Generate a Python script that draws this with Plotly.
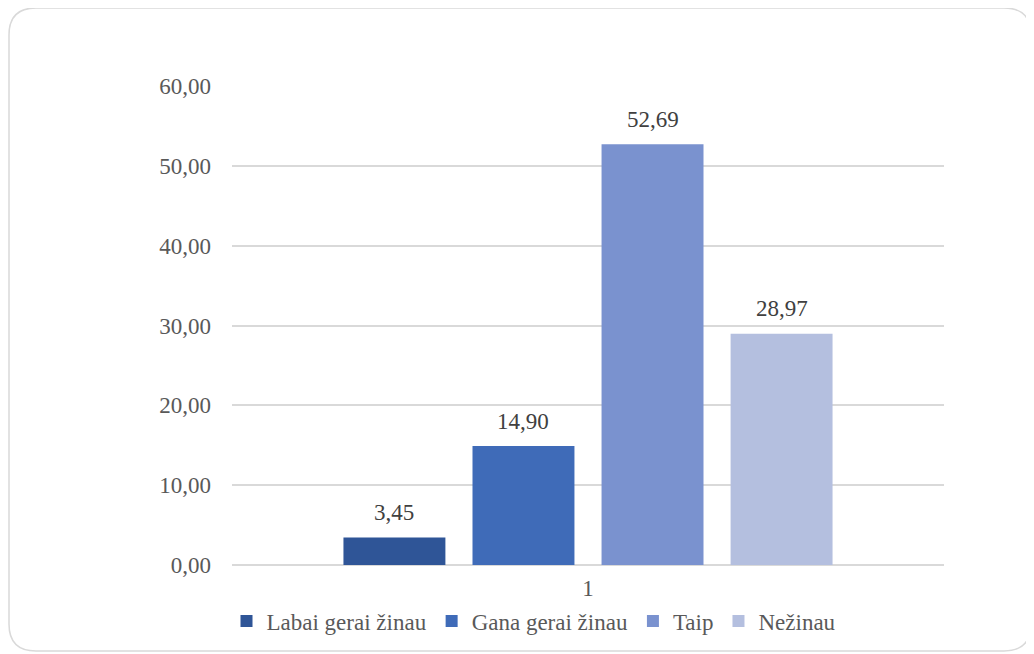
import plotly.graph_objects as go

categories = ["1"]
series_names = ["Labai gerai žinau", "Gana gerai žinau", "Taip", "Nežinau"]
series_values = [3.45, 14.90, 52.69, 28.97]
colors = ["#2F5597", "#3F6BB8", "#7A92CF", "#B4BFDF"]
y_ticks = [0, 10, 20, 30, 40, 50, 60]

OFF = 8  # default body margin of the html page
W, H = 1034 - OFF, 654 - OFF
L, T = 232 - OFF, 86 - OFF
R = W - (944 - OFF)
B = H - (565 - OFF)
PW, PH = W - L - R, H - T - B
BARGAP = 0.275
BARGROUPGAP = 0.21
FONT = "Liberation Serif, Times New Roman, serif"

fig = go.Figure()
for name, val, col in zip(series_names, series_values, colors):
    fig.add_trace(go.Bar(x=categories, y=[val], name=name, marker_color=col,
                         marker_line_width=0))

slot = PW * (1 - BARGAP) / len(series_values)
cat_index = 0  # index of the single category on the category axis
for i, val in enumerate(series_values):
    fig.add_annotation(x=cat_index, y=val, xref="x", yref="y",
                       text=f"{val:.2f}".replace(".", ","), showarrow=False,
                       xshift=(i - (len(series_values) - 1) / 2) * slot,
                       yshift=25, yanchor="middle",
                       font=dict(family=FONT, size=23, color="#404040"))

# rounded border in paper coords (page pixel values)
def px(x):
    return (x - OFF - L) / PW

def py(y):
    return (H - B - (y - OFF)) / PH

x0, x1, y0, y1, r = 9, 1031, 8, 651, 27
rx, ry = r / PW, r / PH
path = (f"M {px(x0)+rx},{py(y0)} L {px(x1)-rx},{py(y0)} Q {px(x1)},{py(y0)} {px(x1)},{py(y0)-ry} "
        f"L {px(x1)},{py(y1)+ry} Q {px(x1)},{py(y1)} {px(x1)-rx},{py(y1)} "
        f"L {px(x0)+rx},{py(y1)} Q {px(x0)},{py(y1)} {px(x0)},{py(y1)+ry} "
        f"L {px(x0)},{py(y0)-ry} Q {px(x0)},{py(y0)} {px(x0)+rx},{py(y0)} Z")
fig.add_shape(type="path", path=path, xref="paper", yref="paper",
              line=dict(color="#D9D9D9", width=1.5), layer="below")

fig.update_layout(
    width=W, height=H,
    margin=dict(l=L, r=R, t=T, b=B, autoexpand=False),
    paper_bgcolor="white", plot_bgcolor="white",
    barmode="group", bargap=BARGAP, bargroupgap=BARGROUPGAP,
    separators=", ",
    font=dict(family=FONT, size=23, color="#595959"),
    showlegend=True,
    legend=dict(orientation="h", x=px(534), xanchor="center", y=py(621), yanchor="middle",
                font=dict(family=FONT, size=23, color="#595959"),
                itemwidth=30, tracegroupgap=0),
    xaxis=dict(type="category", range=[-0.5, 0.5], showgrid=False, showline=False,
               ticks="", tickfont=dict(size=23), ticklabelstandoff=7),
    yaxis=dict(range=[0, 60], tickvals=y_ticks, tickformat=".2f",
               showgrid=True, gridcolor="#D9D9D9", gridwidth=1.5,
               zeroline=True, zerolinecolor="#D9D9D9", zerolinewidth=1.5,
               showline=False, ticks="", ticklabelstandoff=20,
               tickfont=dict(size=23)),
)

fig.write_html("out.html")
